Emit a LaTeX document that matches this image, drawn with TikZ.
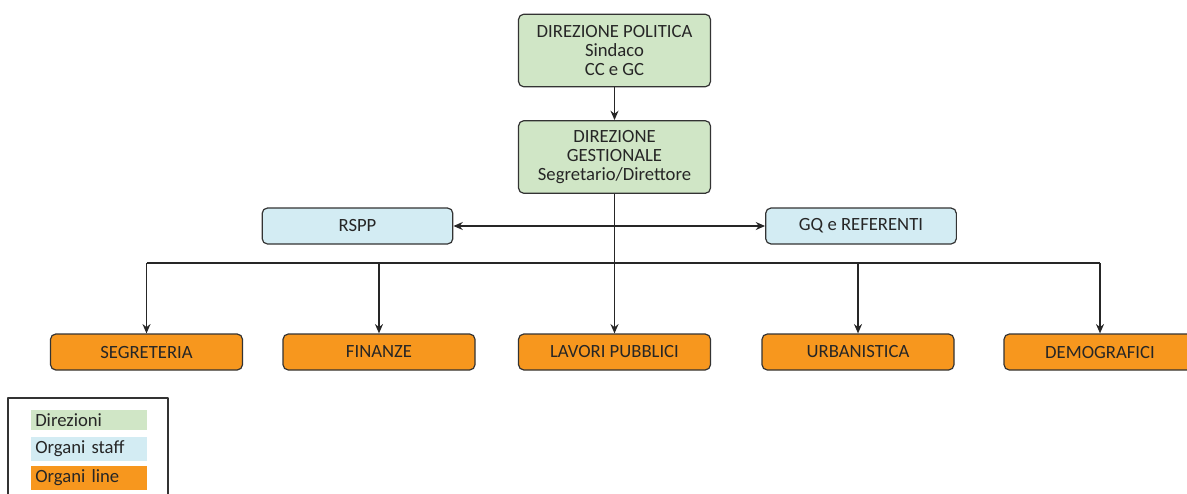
\documentclass[tikz,border=0pt]{standalone}
\usepackage{fontspec}
\setmainfont{Carlito}
\usetikzlibrary{arrows.meta}
\definecolor{dirgreen}{HTML}{D0E6C6}
\definecolor{staffblue}{HTML}{D3ECF3}
\definecolor{lineorange}{HTML}{F7971E}
\definecolor{boxline}{HTML}{333333}
\begin{document}
\begin{tikzpicture}[x=0.75pt, y=-0.75pt, font=\fontsize{14}{14.25}\selectfont, line join=round, >={Stealth[length=7pt,width=6pt]},
	ufficio/.style={draw=boxline, line width=0.9pt, rounded corners=4pt, minimum width=144pt, minimum height=27pt, inner sep=0pt, align=center, text=black!85},
	direzione/.style={ufficio, fill=dirgreen, minimum height=54.5pt},
	staff/.style={ufficio, fill=staffblue, minimum width=143pt},
	linea/.style={ufficio, fill=lineorange},
	legenda/.style={minimum width=87pt, minimum height=15pt, inner sep=3pt, text=black!85, anchor=west, text width=81pt},
	conn/.style={line width=1.3pt, black!85}]
	\useasboundingbox (0,0) rectangle (1187,493);
	% direzioni
	\node[direzione] (pol) at (614.5,50.5) {DIREZIONE POLITICA\\Sindaco\\CC e GC};
	\node[direzione] (ges) at (614.5,157) {DIREZIONE\\GESTIONALE\\Segretario/Direttore};
	% staff
	\node[staff] (rspp) at (357.5,226) {RSPP};
	\node[staff] (gq) at (861,226) {GQ e REFERENTI};
	% line
	\node[linea] (seg) at (146.5,352) {SEGRETERIA};
	\node[linea] (fin) at (379,352) {FINANZE};
	\node[linea] (lav) at (614.5,352) {LAVORI PUBBLICI};
	\node[linea] (urb) at (858,352) {URBANISTICA};
	\node[linea] (dem) at (1100,352) {DEMOGRAFICI};
	\coordinate (bus) at (614.5,263);
	\draw[conn,->] (pol)--(ges);
	\draw[conn] (ges.south)--(bus);
	\draw[conn,<->] (rspp)--(gq);
	\draw[conn] (seg.north|-bus)--(dem.north|-bus);
	\foreach \u in {seg,fin,urb,dem}
		\draw[conn,->] (\u.north|-bus)--(\u.north);
	\draw[conn,->] (bus)--(lav.north);
	% legenda
	\draw[boxline, line width=0.9pt] (8,496)--(8,398)--(168,398)--(168,496);
	\node[legenda, fill=dirgreen] (leg1) at (31,420) {Direzioni};
	\node[legenda, fill=staffblue] (leg2) at (31,449) {Organi staff};
	\node[legenda, fill=lineorange] (leg3) at (31,478) {Organi line};
\end{tikzpicture}
\end{document}
